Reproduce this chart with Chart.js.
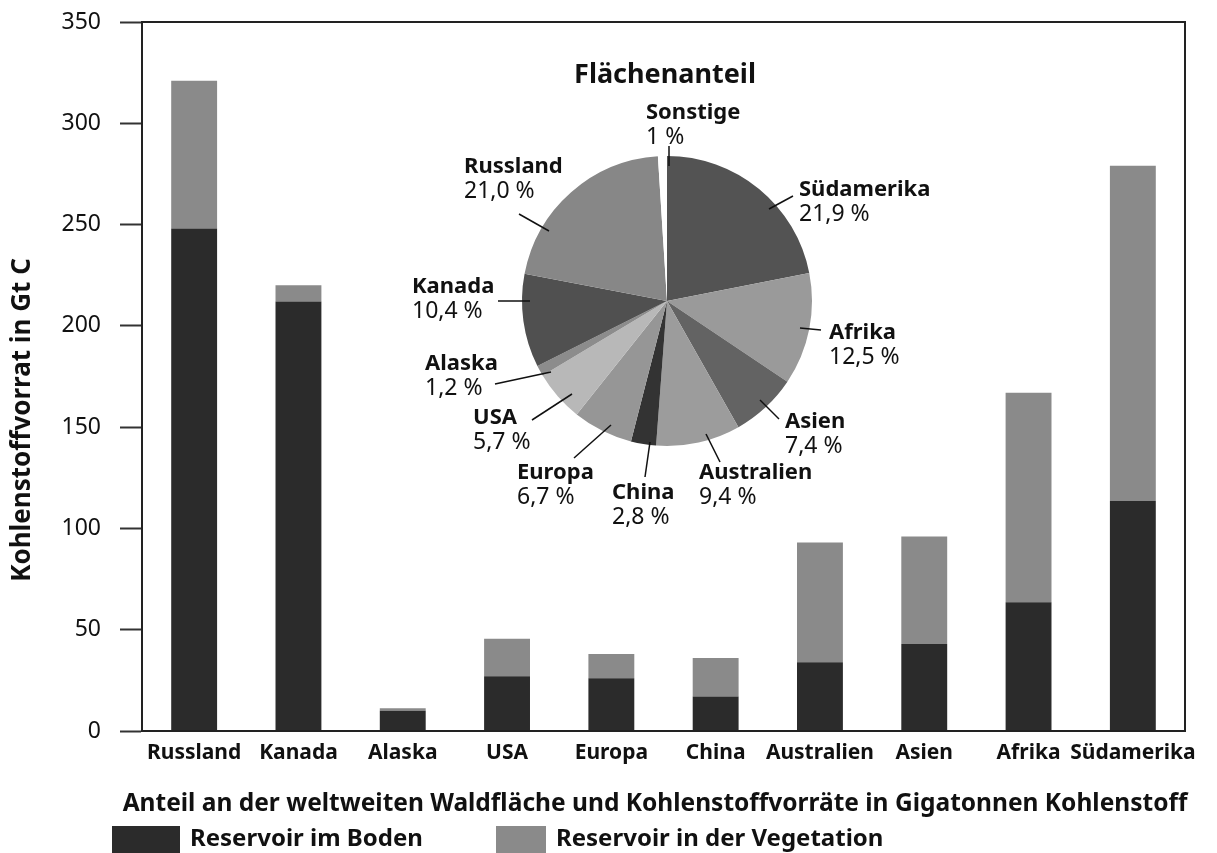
<!DOCTYPE html>
<html lang="de">
<head>
<meta charset="utf-8">
<title>Waldfläche und Kohlenstoffvorräte</title>
<script src="https://cdn.jsdelivr.net/npm/chart.js@4.4.1/dist/chart.umd.min.js"></script>
<style>
  html, body { margin: 0; padding: 0; background: #fff; }
  #wrap { position: relative; width: 1217px; height: 853px; }
  #barChart { position: absolute; left: 0; top: 0; }
  #pieChart { position: absolute; left: 400px; top: 50px; }
</style>
</head>
<body>
<div id="wrap">
  <canvas id="barChart" width="1217" height="853"></canvas>
  <canvas id="pieChart" width="530" height="500"></canvas>
</div>
<script>
// bar chart data (Gt C)
const regions = ["Russland", "Kanada", "Alaska", "USA", "Europa", "China", "Australien", "Asien", "Afrika", "Südamerika"];
const soilCarbon = [248, 212, 10, 27, 26, 17, 34, 43, 63.5, 113.5];
const vegetationCarbon = [73, 8, 1.2, 18.5, 12, 19, 59, 53, 103.5, 165.5];
const yTicks = [0, 50, 100, 150, 200, 250, 300, 350];

// pie chart data (share of forest area in %, clockwise from the top)
const pieRegions = ["Südamerika", "Afrika", "Asien", "Australien", "China", "Europa", "USA", "Alaska", "Kanada", "Russland", "Sonstige"];
const areaShare = [21.9, 12.5, 7.4, 9.4, 2.8, 6.7, 5.7, 1.2, 10.4, 21.0, 1];

Chart.defaults.font.family = "'Noto Sans', sans-serif";
Chart.defaults.color = "#111";

const FONT = "'Noto Sans', sans-serif";

// where the pie canvas sits on the page
const pieOrigin = { x: 400, y: 50 };

// label text anchor + leader line for each slice (page coordinates)
const pieLabelLayout = [
  { tx: 799, ty: 190, x1: 769, y1: 209, x2: 793, y2: 196 },
  { tx: 829, ty: 333, x1: 800, y1: 328, x2: 821, y2: 330 },
  { tx: 785, ty: 422, x1: 760, y1: 400, x2: 779, y2: 419 },
  { tx: 699, ty: 473, x1: 706, y1: 434, x2: 720, y2: 462 },
  { tx: 612, ty: 493, x1: 650, y1: 442, x2: 645, y2: 477 },
  { tx: 517, ty: 473, x1: 611, y1: 425, x2: 574, y2: 458 },
  { tx: 473, ty: 418, x1: 572, y1: 394, x2: 532, y2: 420 },
  { tx: 425, ty: 364, x1: 551, y1: 372, x2: 495, y2: 384 },
  { tx: 412, ty: 287, x1: 530, y1: 301, x2: 498, y2: 301 },
  { tx: 464, ty: 167, x1: 549, y1: 231, x2: 519, y2: 214 },
  { tx: 646, ty: 113, x1: 669, y1: 146, x2: 669, y2: 166 }
];

// "Sonstige" is only given as a rounded whole number
function percentText(name, v) {
  const s = name === "Sonstige" ? String(Math.round(v)) : v.toFixed(1).replace(".", ",");
  return s + " %";
}

// frame, y title, bottom title and legend of the bar chart
const barDecor = {
  id: "barDecor",
  afterDraw(chart) {
    const ctx = chart.ctx;
    const a = chart.chartArea;
    ctx.save();
    ctx.strokeStyle = "#222";
    ctx.lineWidth = 2;
    ctx.strokeRect(a.left, a.top, a.right - a.left, a.bottom - a.top);

    // y axis title
    ctx.fillStyle = "#111";
    ctx.font = "bold 26px " + FONT;
    ctx.textAlign = "center";
    ctx.textBaseline = "middle";
    ctx.translate(23, 420);
    ctx.rotate(-Math.PI / 2);
    ctx.fillText("Kohlenstoffvorrat in Gt C", 0, 0);
    ctx.restore();

    ctx.save();
    ctx.fillStyle = "#111";
    ctx.textBaseline = "middle";
    ctx.font = "bold 24.5px " + FONT;
    ctx.textAlign = "center";
    ctx.fillText("Anteil an der weltweiten Waldfläche und Kohlenstoffvorräte in Gigatonnen Kohlenstoff", 655, 804);

    // legend
    const boxes = [
      { x: 112, w: 68, tx: 190 },
      { x: 496, w: 50, tx: 556 }
    ];
    ctx.font = "bold 24px " + FONT;
    ctx.textAlign = "left";
    chart.data.datasets.forEach((ds, i) => {
      const b = boxes[i];
      ctx.fillStyle = ds.backgroundColor;
      ctx.fillRect(b.x, 826, b.w, 27);
      ctx.fillStyle = "#111";
      ctx.fillText(ds.label, b.tx, 839);
    });
    ctx.restore();
  }
};

const barChart = new Chart(document.getElementById("barChart"), {
  type: "bar",
  data: {
    labels: regions,
    datasets: [
      { label: "Reservoir im Boden", data: soilCarbon, backgroundColor: "#2b2b2b" },
      { label: "Reservoir in der Vegetation", data: vegetationCarbon, backgroundColor: "#8a8a8a" }
    ]
  },
  options: {
    responsive: false,
    animation: false,
    layout: { padding: { top: 22, right: 32, left: 0, bottom: 0 } },
    datasets: { bar: { barPercentage: 0.44, categoryPercentage: 1 } },
    plugins: { legend: { display: false }, tooltip: { enabled: false } },
    scales: {
      x: {
        stacked: true,
        grid: { display: false, drawTicks: false },
        border: { display: true, color: "#222", width: 2 },
        ticks: { font: { size: 21, weight: "bold" }, padding: 9, maxRotation: 0, autoSkip: false },
        afterFit: (s) => { s.height = 122; }
      },
      y: {
        stacked: true,
        min: 0,
        max: 350,
        afterBuildTicks: (s) => { s.ticks = yTicks.map((v) => ({ value: v })); },
        grid: { drawOnChartArea: false, drawTicks: true, tickLength: 22, tickWidth: 2, tickColor: "#333" },
        border: { display: true, color: "#222", width: 2 },
        ticks: { font: { size: 23 }, padding: 19 },
        afterFit: (s) => {
          s.width = 142;
          s.paddingTop = 0;
          s.paddingBottom = 0;
        }
      }
    }
  },
  plugins: [barDecor]
});

// pie title, labels and leader lines
const pieDecor = {
  id: "pieDecor",
  afterDraw(chart) {
    const ctx = chart.ctx;
    ctx.save();
    ctx.translate(-pieOrigin.x, -pieOrigin.y);
    ctx.fillStyle = "#111";
    ctx.textBaseline = "middle";
    ctx.textAlign = "center";
    ctx.font = "bold 27px " + FONT;
    ctx.fillText("Flächenanteil", 665, 75);

    ctx.strokeStyle = "#111";
    ctx.lineWidth = 1.5;
    ctx.textAlign = "left";
    chart.data.labels.forEach((name, i) => {
      const p = pieLabelLayout[i];
      ctx.beginPath();
      ctx.moveTo(p.x1, p.y1);
      ctx.lineTo(p.x2, p.y2);
      ctx.stroke();
      ctx.font = "bold 22px " + FONT;
      ctx.fillText(name, p.tx, p.ty);
      ctx.font = "23px " + FONT;
      ctx.fillText(percentText(name, chart.data.datasets[0].data[i]), p.tx, p.ty + 24);
    });
    ctx.restore();
  }
};

const pieChart = new Chart(document.getElementById("pieChart"), {
  type: "pie",
  data: {
    labels: pieRegions,
    datasets: [{
      data: areaShare,
      backgroundColor: ["#535353", "#9a9a9a", "#636363", "#9c9c9c", "#333333", "#969696", "#b8b8b8", "#8c8c8c", "#505050", "#878787", "#ffffff"],
      borderWidth: 0
    }]
  },
  options: {
    responsive: false,
    animation: false,
    layout: { padding: { left: 122, right: 118, top: 106, bottom: 104 } },
    plugins: { legend: { display: false }, tooltip: { enabled: false } }
  },
  plugins: [pieDecor]
});
</script>
</body>
</html>
